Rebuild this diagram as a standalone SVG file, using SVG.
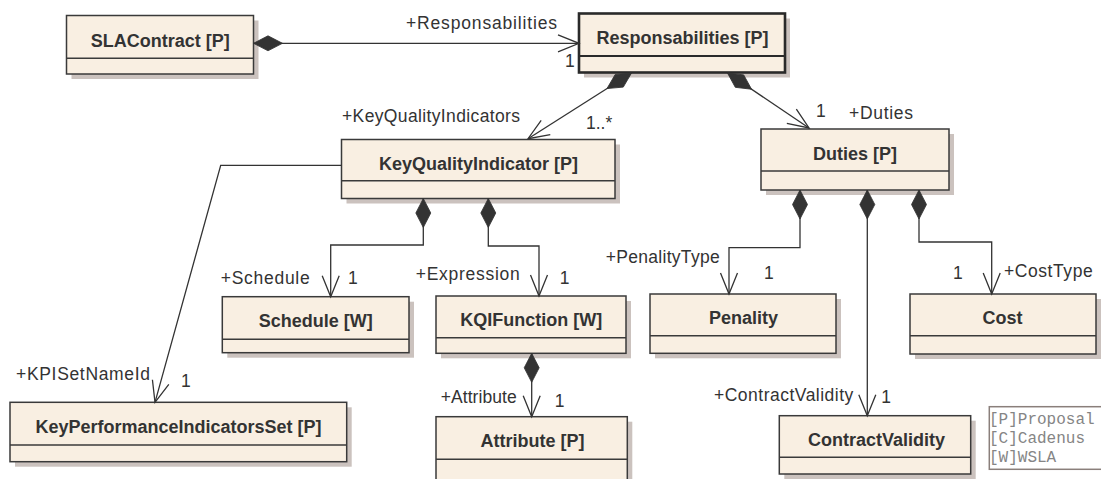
<svg xmlns="http://www.w3.org/2000/svg" width="1101" height="479" viewBox="0 0 1101 479">
<style>
.sh{fill:#cbc2be}
.bx{fill:#f9efe2;stroke:#3a3a3a;stroke-width:1.5}
.bxs{fill:#f9efe2;stroke:#2a2a2a;stroke-width:2.6}
.dv{stroke:#3a3a3a;stroke-width:1.5}
.nm{font-family:"Liberation Sans",Arial,sans-serif;font-weight:bold;font-size:18px;fill:#333;text-anchor:middle}
.lb{font-family:"Liberation Sans",Arial,sans-serif;font-size:17.5px;fill:#333}
.cn{fill:none;stroke:#333;stroke-width:1.3}
.lg{font-family:"Liberation Mono","Courier New",monospace;font-size:16px;fill:#858585}
</style>
<defs>
<marker id="dia" markerUnits="userSpaceOnUse" orient="auto" refX="0" refY="0" markerWidth="40" markerHeight="20" overflow="visible">
<polygon points="0,0 14.5,-7.5 29,0 14.5,7.5" fill="#333" stroke="#333" stroke-width="0.8"/>
</marker>
<marker id="arr" markerUnits="userSpaceOnUse" orient="auto" refX="0" refY="0" markerWidth="30" markerHeight="20" overflow="visible">
<polyline points="-21,-8.5 0,0 -21,8.5" fill="none" stroke="#333" stroke-width="1.3"/>
</marker>
</defs>
<rect x="0" y="0" width="1101" height="479" fill="#ffffff"/>

<g id="SLAContract">
<rect class="sh" x="71.5" y="20.5" width="187" height="58.5"/>
<rect class="bx" x="66.5" y="15.5" width="187" height="58.5"/>
<line class="dv" x1="66.5" y1="58.3" x2="253.5" y2="58.3"/>
<text class="nm" x="160.3" y="47">SLAContract [P]</text>
</g>

<g id="Responsabilities">
<rect class="sh" x="584" y="18.5" width="206" height="59"/>
<rect class="bxs" x="579" y="13.5" width="206" height="59"/>
<line x1="579" y1="56" x2="785" y2="56" stroke="#2a2a2a" stroke-width="2"/>
<text class="nm" x="682.5" y="43.5">Responsabilities [P]</text>
</g>

<g id="KeyQualityIndicator">
<rect class="sh" x="346.5" y="144.5" width="273.5" height="59"/>
<rect class="bx" x="341.5" y="139.5" width="273.5" height="59"/>
<line class="dv" x1="341.5" y1="180.7" x2="615" y2="180.7"/>
<text class="nm" x="478.5" y="170">KeyQualityIndicator [P]</text>
</g>

<g id="Duties">
<rect class="sh" x="766" y="134" width="188" height="61"/>
<rect class="bx" x="761" y="129" width="188" height="61"/>
<line class="dv" x1="761" y1="171" x2="949" y2="171"/>
<text class="nm" x="855" y="160">Duties [P]</text>
</g>

<g id="Schedule">
<rect class="sh" x="227.3" y="301.7" width="186.7" height="56"/>
<rect class="bx" x="222.3" y="296.7" width="186.7" height="56"/>
<line class="dv" x1="222.3" y1="339.3" x2="409" y2="339.3"/>
<text class="nm" x="315.8" y="326.5">Schedule [W]</text>
</g>

<g id="KQIFunction">
<rect class="sh" x="441" y="301" width="190" height="57.3"/>
<rect class="bx" x="436" y="296" width="190" height="57.3"/>
<line class="dv" x1="436" y1="337.7" x2="626" y2="337.7"/>
<text class="nm" x="531.3" y="325.5">KQIFunction [W]</text>
</g>

<g id="Penality">
<rect class="sh" x="655" y="299" width="186" height="59.3"/>
<rect class="bx" x="650" y="294" width="186" height="59.3"/>
<line class="dv" x1="650" y1="335.7" x2="836" y2="335.7"/>
<text class="nm" x="743.5" y="324">Penality</text>
</g>

<g id="Cost">
<rect class="sh" x="915" y="299" width="186" height="60"/>
<rect class="bx" x="910" y="294" width="186" height="60"/>
<line class="dv" x1="910" y1="335.7" x2="1096" y2="335.7"/>
<text class="nm" x="1002.5" y="324">Cost</text>
</g>

<g id="KeyPerformanceIndicatorsSet">
<rect class="sh" x="15" y="407.3" width="336.7" height="59.4"/>
<rect class="bx" x="10" y="402.3" width="336.7" height="59.4"/>
<line class="dv" x1="10" y1="445" x2="346.7" y2="445"/>
<text class="nm" x="178.5" y="432.7">KeyPerformanceIndicatorsSet [P]</text>
</g>

<g id="Attribute">
<rect class="sh" x="441" y="421.7" width="191.3" height="70"/>
<rect class="bx" x="436" y="416.7" width="191.3" height="70"/>
<line class="dv" x1="436" y1="459.3" x2="627.3" y2="459.3"/>
<text class="nm" x="532.5" y="446.7">Attribute [P]</text>
</g>

<g id="ContractValidity">
<rect class="sh" x="784.3" y="420.7" width="191.4" height="58.3"/>
<rect class="bx" x="779.3" y="415.7" width="191.4" height="58.3"/>
<line class="dv" x1="779.3" y1="457.3" x2="970.7" y2="457.3"/>
<text class="nm" x="876.5" y="446">ContractValidity</text>
</g>

<g id="legend">
<rect x="989.3" y="406.7" width="130" height="62.6" fill="#ffffff" stroke="#8a7f7b" stroke-width="1.5"/>
<text class="lg" x="989" y="423.5">[P]Proposal</text>
<text class="lg" x="989" y="442.5">[C]Cadenus</text>
<text class="lg" x="989" y="461.5">[W]WSLA</text>
</g>

<g id="connectors">
<path class="cn" d="M253.5,43.3 L579,43.3" marker-start="url(#dia)" marker-end="url(#arr)"/>
<path class="cn" d="M631.5,73 L528,138.7" marker-start="url(#dia)" marker-end="url(#arr)"/>
<path class="cn" d="M727.5,73 L809,128" marker-start="url(#dia)" marker-end="url(#arr)"/>
<path class="cn" d="M341.5,165.3 L220.7,165.3 L155,402.3" marker-end="url(#arr)"/>
<path class="cn" d="M423.3,198.5 L423.3,245 L330.7,245 L330.7,296.7" marker-start="url(#dia)" marker-end="url(#arr)"/>
<path class="cn" d="M488.3,198.5 L488.3,246 L539,246 L539,296" marker-start="url(#dia)" marker-end="url(#arr)"/>
<path class="cn" d="M531.7,353.3 L531.7,416.7" marker-start="url(#dia)" marker-end="url(#arr)"/>
<path class="cn" d="M800,190 L800,247.7 L729,247.7 L729,294" marker-start="url(#dia)" marker-end="url(#arr)"/>
<path class="cn" d="M867.3,190 L867.3,415.7" marker-start="url(#dia)" marker-end="url(#arr)"/>
<path class="cn" d="M919,190 L919,242 L991.7,242 L991.7,294" marker-start="url(#dia)" marker-end="url(#arr)"/>

<text class="lb" x="406" y="28.5" textLength="151" lengthAdjust="spacing">+Responsabilities</text>
<text class="lb" x="565" y="66.5">1</text>
<text class="lb" x="342" y="121.7" textLength="178" lengthAdjust="spacing">+KeyQualityIndicators</text>
<text class="lb" x="586" y="129">1..*</text>
<text class="lb" x="816" y="117">1</text>
<text class="lb" x="849" y="119" textLength="64" lengthAdjust="spacing">+Duties</text>
<text class="lb" x="220.7" y="284" textLength="89" lengthAdjust="spacing">+Schedule</text>
<text class="lb" x="348" y="284">1</text>
<text class="lb" x="415.7" y="280" textLength="104" lengthAdjust="spacing">+Expression</text>
<text class="lb" x="559.7" y="284">1</text>
<text class="lb" x="440.7" y="403" textLength="76" lengthAdjust="spacing">+Attribute</text>
<text class="lb" x="554.7" y="406.5">1</text>
<text class="lb" x="16" y="380" textLength="134" lengthAdjust="spacing">+KPISetNameId</text>
<text class="lb" x="181" y="387">1</text>
<text class="lb" x="605.7" y="262.7" textLength="114" lengthAdjust="spacing">+PenalityType</text>
<text class="lb" x="764" y="279.3">1</text>
<text class="lb" x="953" y="279.3">1</text>
<text class="lb" x="1004" y="277.3" textLength="88.7" lengthAdjust="spacing">+CostType</text>
<text class="lb" x="714" y="400.7" textLength="139.3" lengthAdjust="spacing">+ContractValidity</text>
<text class="lb" x="881.3" y="402.7">1</text>
</g>
</svg>
